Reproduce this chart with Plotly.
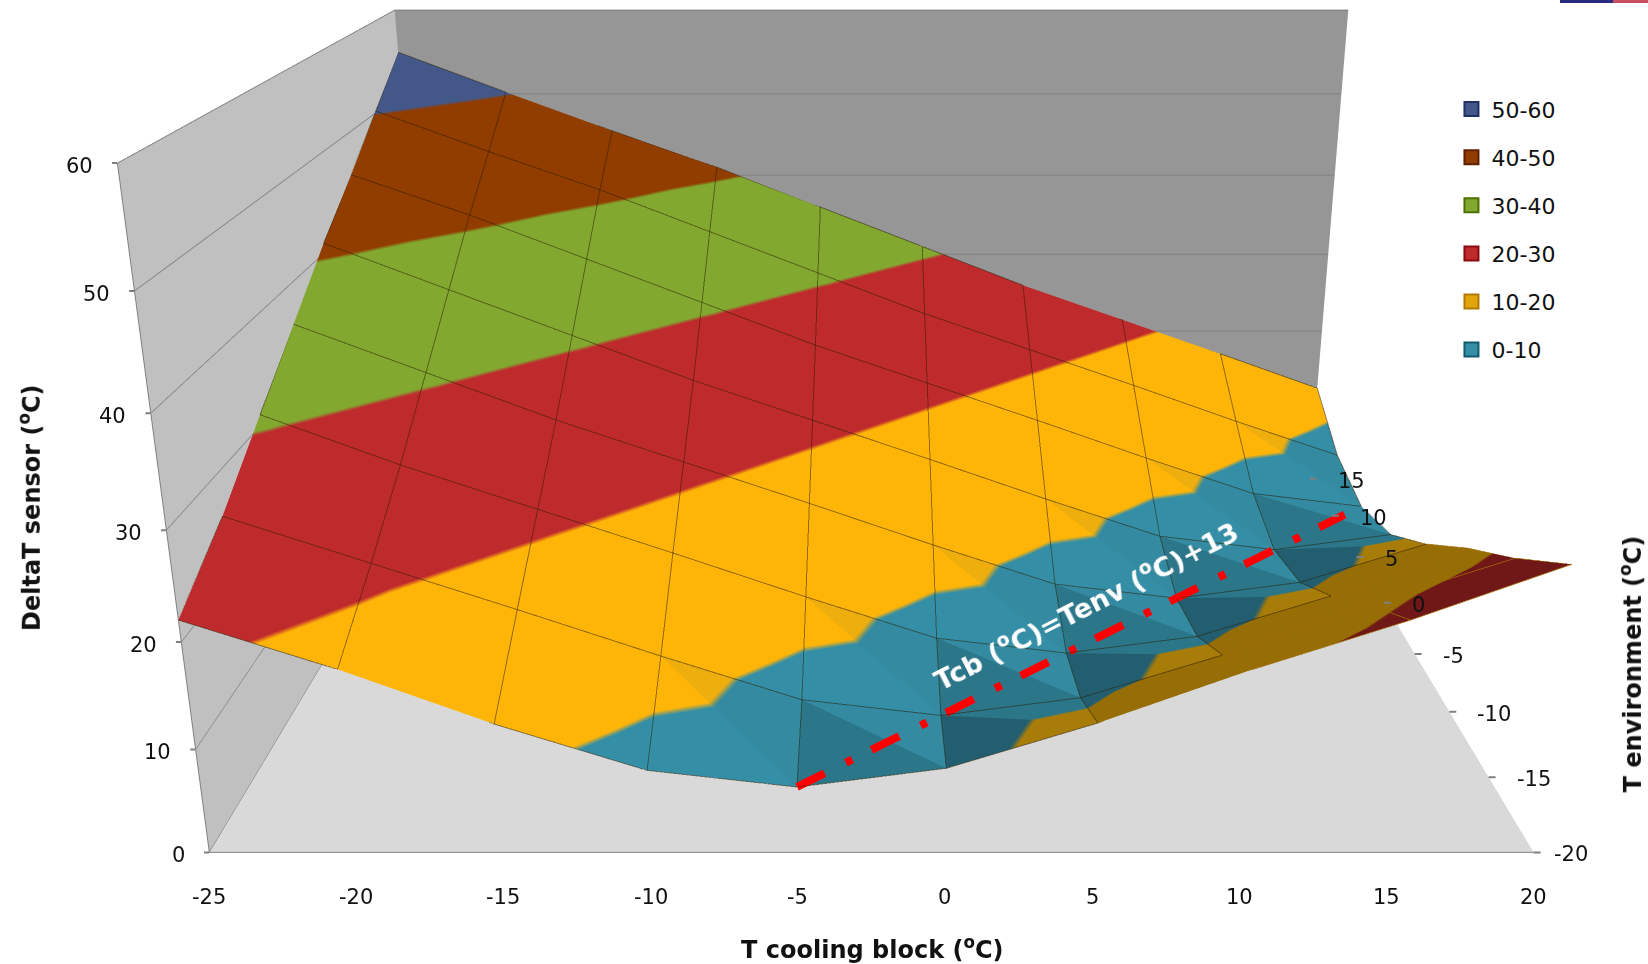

import plotly.graph_objects as go

tcb = [-25, -20, -15, -10, -5, 0, 5, 10, 15, 20]
tenv = [-20, -15, -10, -5, 0, 5, 10, 15]
ztick = [0, 10, 20, 30, 40, 50, 60]
# DeltaT, one row per Tenv
dT_m20 = [22.0, 17.5, 12.4, 8.0, 6.4, 8.2, 12.5, 17.5, 22.0, 27.0]
dT_m15 = [26.0, 21.5, 17.0, 12.4, 8.0, 6.4, 8.2, 12.5, 17.5, 22.0]
dT_m10 = [31.0, 26.0, 21.5, 17.0, 12.4, 8.0, 6.4, 8.2, 12.5, 17.5]
dT_m5 = [36.0, 31.0, 26.0, 21.5, 17.0, 12.4, 8.0, 6.4, 8.2, 12.5]
dT_0 = [41.0, 36.0, 31.0, 26.0, 21.5, 17.0, 12.4, 8.0, 6.4, 8.2]
dT_5 = [45.5, 41.0, 36.0, 31.0, 26.0, 21.5, 17.0, 12.4, 8.0, 6.4]
dT_10 = [50.2, 45.5, 41.0, 36.0, 31.0, 26.0, 21.5, 17.0, 12.4, 8.0]
dT_15 = [55.0, 50.2, 45.5, 41.0, 36.0, 31.0, 26.0, 21.5, 17.0, 12.4]
rows = [dT_m20, dT_m15, dT_m10, dT_m5, dT_0, dT_5, dT_10, dT_15]

# ends of the dash-dot guide line
line_tcb = [-5, 19]
line_tenv = [-20, 4]
line_dT = [6.4, 6.4]

names = ["50-60", "40-50", "30-40", "20-30", "10-20", "0-10"]
fills = ["#445789", "#913d00", "#82a830", "#bf2a2d", "#e4a40c", "#348ea6"]
edges = ["#1f3064", "#602000", "#4d7000", "#8a0a10", "#b07a00", "#115a70"]

# colour of each band (0-10 ... 50-60) under the chart's lighting, brightest facet first
shades = [
    ["#348ea6", "#ffb508", "#bf2a2d", "#82a830", "#913d00", "#445789"],
    ["#338aa1", "#edae0e", "#bf2a2d", "#82a830", "#913d00", "#445789"],
    ["#2c768a", "#a87c08", "#a82428", "#82a830", "#913d00", "#445789"],
    ["#235e70", "#a87c08", "#7a1a1c", "#82a830", "#913d00", "#445789"],
    ["#235e70", "#966e05", "#701818", "#82a830", "#913d00", "#445789"],
]

W, H = 1648, 2050
k = 1648 / 1568
cx = 829 * k
aspect = dict(x=1, y=1.0741, z=0.4965)
camera = dict(eye=dict(x=0, y=-2.2571, z=0.4934), center=dict(x=0, y=0, z=-0.6723), up=dict(x=0, y=0, z=1),
              projection=dict(type="perspective"))
domain = dict(x=[(2 * cx - W) / W, 1], y=[0, 1])


def fy(y):
    return 1 - y * k / H


def fx(x):
    return x * k / W


def scale(cols):
    out = []
    for n, c in enumerate(cols):
        out += [[n / 6, c], [(n + 1) / 6, c]]
    return out


xs, ys, zs = [], [], []
for j, t in enumerate(tenv):
    for i, c in enumerate(tcb):
        xs.append(c); ys.append(t); zs.append(rows[j][i])
idx = lambda i, j: j * len(tcb) + i

tri = [([], [], []) for _ in shades]


def put(s, a, b, c):
    tri[s][0].append(a); tri[s][1].append(b); tri[s][2].append(c)


for j in range(len(tenv) - 1):
    for i in range(len(tcb) - 1):
        a, b, c, e = idx(i, j), idx(i + 1, j), idx(i + 1, j + 1), idx(i, j + 1)
        d = tcb[i] - tenv[j]
        if d <= 5:
            front, back = 0, 0
        elif d == 10:
            front, back = 0, 1
        elif d == 15:
            front, back = 2, 1
        elif d == 20:
            front, back = 3, 2
        else:
            front, back = 4, 4
        put(front, a, b, e)
        put(back, c, b, e)

fig = go.Figure()
for s, cols in enumerate(shades):
    fig.add_trace(go.Mesh3d(x=xs, y=ys, z=zs, i=tri[s][0], j=tri[s][1], k=tri[s][2], intensity=zs, colorscale=scale(cols),
        cmin=0, cmax=60, showscale=False, lighting=dict(ambient=1, diffuse=0, specular=0, fresnel=0), flatshading=True,
        hoverinfo="skip", showlegend=False))

# grid drawn over the surface, in an overlaid scene with the same camera
top = ([], [], [])
under = ([], [], [])


def seg(i0, j0, i1, j1):
    d = (tcb[i0] - tenv[j0] + tcb[i1] - tenv[j1]) / 2
    dest = under if d >= 25 else top
    dest[0].extend([tcb[i0], tcb[i1], None])
    dest[1].extend([tenv[j0], tenv[j1], None])
    dest[2].extend([rows[j0][i0], rows[j1][i1], None])


for j in range(len(tenv)):
    for i in range(len(tcb) - 1):
        seg(i, j, i + 1, j)
for i in range(len(tcb)):
    for j in range(len(tenv) - 1):
        seg(i, j, i, j + 1)
fig.add_trace(go.Scatter3d(x=top[0], y=top[1], z=top[2], mode="lines", line=dict(color="rgba(20,15,0,0.5)", width=2),
                           hoverinfo="skip", showlegend=False, scene="scene2"))
fig.add_trace(go.Scatter3d(x=under[0], y=under[1], z=under[2], mode="lines", line=dict(color="#a06c08", width=1.5),
                           hoverinfo="skip", showlegend=False, scene="scene2"))

# dash-dot guide: eight equal periods on screen, depth ratio of its two ends = 1.355
rx, ry, rz = [], [], []


def along(s):
    t = s / (1.355 * (1 - s) + s)
    rx.append(line_tcb[0] + t * (line_tcb[1] - line_tcb[0]))
    ry.append(line_tenv[0] + t * (line_tenv[1] - line_tenv[0]))
    rz.append(line_dT[0] + t * (line_dT[1] - line_dT[0]))


for n in range(8):
    s0 = n * 71.5 / 525
    for a, b in [(0, 26.5), (47, 53)]:
        if s0 + a / 525 < 1:
            along(s0 + a / 525)
            along(min(s0 + b / 525, 1))
            rx.append(None); ry.append(None); rz.append(None)
fig.add_trace(go.Scatter3d(x=rx, y=ry, z=rz, mode="lines", line=dict(color="#ff0000", width=16),
                           hoverinfo="skip", showlegend=False, scene="scene2"))

for n, f, ed in zip(names, fills, edges):
    fig.add_trace(go.Scatter3d(x=[None], y=[None], z=[None], mode="markers", name=n, legendgroup=n,
                               marker=dict(symbol="square", size=14, color=f, line=dict(color=ed, width=2))))

tick_font = dict(family="DejaVu Sans", size=21, color="#111111")
scene_notes = []


def note(x, y, z, text, anchor, xshift=0, yshift=0):
    scene_notes.append(dict(x=x, y=y, z=z, text=text, showarrow=False, xanchor=anchor, yanchor="middle",
                            xshift=xshift, yshift=yshift, font=tick_font))


def tick(x, y, z, ax, ay):
    scene_notes.append(dict(x=x, y=y, z=z, text=" ", showarrow=True, arrowhead=0, arrowwidth=2, arrowcolor="#808080",
                            ax=ax, ay=ay, standoff=0))


for t in tcb:
    tick(t, -20, 0, 0, 10)
    note(t, -20, 0, str(t), "center", yshift=-45)
for t in tenv:
    tick(20, t, 0, 10, 0)
    note(20, t, 0, str(t), "left", xshift=18 if t == -20 else 26, yshift=-2)
for t in ztick:
    tick(-25, -20, t, -8, 0)
    note(-25, -20, t, str(t), "right", xshift=-22, yshift=-3)

ax = dict(showgrid=False, zeroline=False, showspikes=False, showticklabels=False, showline=True, linecolor="#808080", linewidth=2,
          ticks="", title=dict(text=""), showbackground=True)
hidden = dict(visible=False, showgrid=False, zeroline=False, showspikes=False, showticklabels=False, showline=False,
              ticks="", title=dict(text=""), showbackground=False)
bold = dict(family="DejaVu Sans", size=24, color="#111111", weight="bold")


def title(x, y, text, angle=0, font=bold):
    return dict(x=fx(x), y=fy(y), xref="paper", yref="paper", xanchor="center", yanchor="middle", showarrow=False,
                text=text, textangle=angle, font=font)


def strip(x0, x1, colour):
    return dict(type="rect", xref="paper", yref="paper", x0=x0 / W, x1=x1 / W, y0=1 - 3 / H, y1=1, fillcolor=colour, line=dict(width=0))


fig.update_layout(
    width=W, height=H, margin=dict(l=0, r=0, t=0, b=0), paper_bgcolor="white",
    scene=dict(domain=domain, aspectmode="manual", aspectratio=aspect, camera=camera,
               xaxis=dict(ax, range=[-25, 20], tickvals=tcb, backgroundcolor="#c0c0c0"),
               yaxis=dict(ax, range=[-20, 15], tickvals=tenv, backgroundcolor="#969696"),
               zaxis=dict(ax, range=[0, 60], tickvals=ztick, backgroundcolor="#d9d9d9", showgrid=True, gridcolor="#808080", gridwidth=2),
               annotations=scene_notes),
    scene2=dict(domain=domain, aspectmode="manual", aspectratio=aspect, camera=camera,
                xaxis=dict(hidden, range=[-25, 20]), yaxis=dict(hidden, range=[-20, 15]), zaxis=dict(hidden, range=[0, 60])),
    legend=dict(x=fx(1381), y=fy(84), xanchor="left", yanchor="top", tracegroupgap=16.5,
                font=dict(family="DejaVu Sans", size=22, color="#111111")),
    annotations=[
        title(830, 902, "T cooling block (<sup>o</sup>C)"),
        title(28, 483, "DeltaT sensor (<sup>o</sup>C)", -90),
        title(1552, 632, "T environment (<sup>o</sup>C)", -90),
        title(1033, 575, "Tcb (<sup>o</sup>C)=Tenv (<sup>o</sup>C)+13", -27, dict(family="DejaVu Sans", size=27, color="white", weight="bold")),
    ],
    shapes=[strip(1560, 1613, "#2a2a80"), strip(1613, 1648, "#c85060")],
)
fig.write_html("out.html", config=dict(displayModeBar=False),
               post_script="document.body.style.margin='0';document.documentElement.style.overflow='hidden';document.body.style.overflow='hidden';")
